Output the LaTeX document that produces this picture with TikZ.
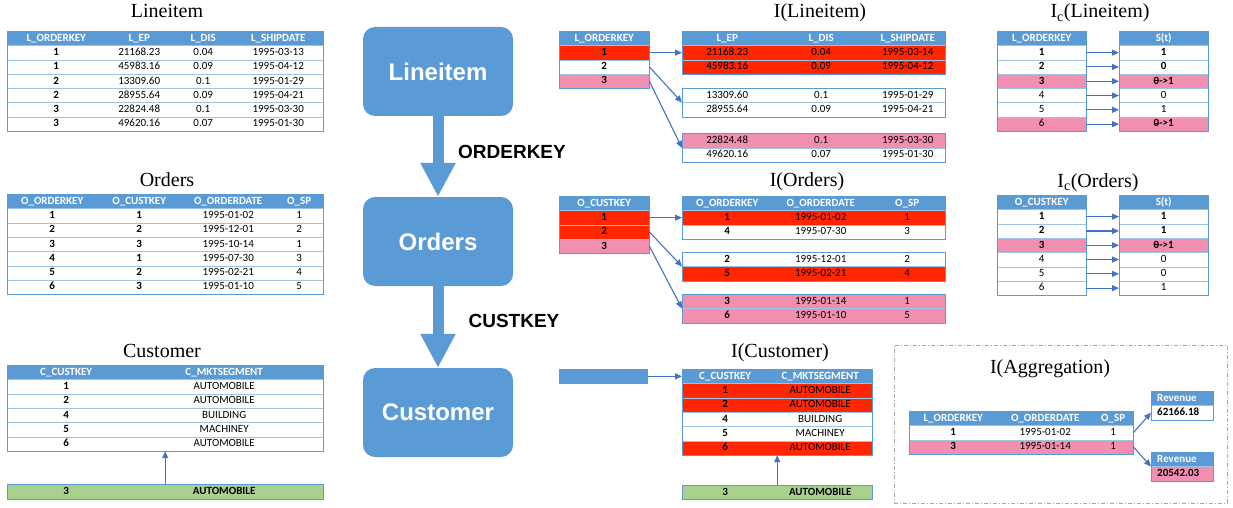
\documentclass[tikz,border=0pt]{standalone}
\usepackage{fontspec}
\usetikzlibrary{arrows.meta,matrix,positioning}
\newfontfamily\tabfam{Carlito}
\newfontfamily\serfam{Liberation Serif}
\newfontfamily\sanfam{Liberation Sans}
\definecolor{HeadBlue}{HTML}{5B9BD5}
\definecolor{LinkBlue}{HTML}{4472C4}
\definecolor{LineBlue}{HTML}{9DC3E6}
\definecolor{RowRed}{HTML}{FF2600}
\definecolor{RowPink}{HTML}{F28FB0}
\definecolor{RowGreen}{HTML}{A9D18E}
\definecolor{FrameGray}{HTML}{A6A6A6}
\newcommand{\tabfont}{\tabfam\fontsize{11}{13}\selectfont}
\newcommand{\ttlfont}{\serfam\fontsize{20}{22}\selectfont}
\newcommand{\boxfont}{\sanfam\bfseries\fontsize{24}{26}\selectfont}
\newcommand{\keyfont}{\sanfam\bfseries\fontsize{19}{21}\selectfont}
\newcommand{\zo}{\rlap{\rule[3.3pt]{5.6pt}{.7pt}}0->1}
% row lines and frame of a table matrix: name, rows, columns
\newcommand{\tlines}[3]{%
  \foreach \n in {1,...,#2}{\draw[rowline] (#1-\n-1.south west) -- (#1-\n-#3.south east);}
  \draw[tframe] (#1.north west) rectangle (#1.south east);}
\tikzset{
  cell/.style={anchor=center, inner sep=0pt, minimum height=14.3pt,
               text height=7pt, text depth=1.5pt, font=\tabfont},
  hdr/.style={fill=HeadBlue, text=white, font=\tabfont\bfseries},
  body/.style={matrix of nodes, inner sep=0pt, column sep=0pt, row sep=0pt,
               anchor=north west, nodes={cell}},
  tbl/.style={body, row 1/.style={nodes={hdr}}},
  colw/.style 2 args={column #1/.style={nodes={minimum width=#2}}},
  redrow/.style={row #1/.style={nodes={fill=RowRed}}},
  pinkrow/.style={row #1/.style={nodes={fill=RowPink}}},
  greenrow/.style={row #1/.style={nodes={fill=RowGreen}}},
  rev/.style={nodes={text width=50pt, align=left, inner xsep=6pt}},
  rowline/.style={draw=LineBlue, line width=.8pt},
  tframe/.style={draw=HeadBlue, line width=.8pt},
  ttl/.style={font=\ttlfont, anchor=base, inner sep=0pt},
  bigbox/.style={fill=HeadBlue, rounded corners=12pt, minimum width=150pt,
                 minimum height=89pt, text=white, font=\boxfont},
  bigarrow/.style={draw=HeadBlue, line width=11pt,
                   -{Triangle[width=33pt,length=34pt]}},
  keylbl/.style={font=\keyfont},
  link/.style={draw=LinkBlue, line width=1.1pt,
               -{Triangle[width=6pt,length=7pt]}},
  aggframe/.style={draw=FrameGray, line width=.8pt,
                   dash pattern=on 4pt off 2pt on 1pt off 2pt}
}

\begin{document}
\begin{tikzpicture}[x=1pt,y=-1pt]
\fill[white] (0,0) rectangle (1233,508);
\useasboundingbox (0,0) rectangle (1233,508);

% base tables
\node[ttl] (t-li) at (167,18) {Lineitem};
\matrix (li) [tbl, at={(7,31)}, colw={1}{98pt}, colw={2}{68pt}, colw={3}{60pt}, colw={4}{90pt}] {
L\_ORDERKEY & L\_EP & L\_DIS & L\_SHIPDATE \\
\textbf{1} & 21168.23 & 0.04 & 1995-03-13 \\
\textbf{1} & 45983.16 & 0.09 & 1995-04-12 \\
\textbf{2} & 13309.60 & 0.1 & 1995-01-29 \\
\textbf{2} & 28955.64 & 0.09 & 1995-04-21 \\
\textbf{3} & 22824.48 & 0.1 & 1995-03-30 \\
\textbf{3} & 49620.16 & 0.07 & 1995-01-30 \\
};
\tlines{li}{7}{4}

\node[ttl] (t-od) at (167,186) {Orders};
\matrix (od) [tbl, at={(7,194)}, colw={1}{90pt}, colw={2}{84pt}, colw={3}{94pt}, colw={4}{48pt}] {
O\_ORDERKEY & O\_CUSTKEY & O\_ORDERDATE & O\_SP \\
\textbf{1} & \textbf{1} & 1995-01-02 & 1 \\
\textbf{2} & \textbf{2} & 1995-12-01 & 2 \\
\textbf{3} & \textbf{3} & 1995-10-14 & 1 \\
\textbf{4} & \textbf{1} & 1995-07-30 & 3 \\
\textbf{5} & \textbf{2} & 1995-02-21 & 4 \\
\textbf{6} & \textbf{3} & 1995-01-10 & 5 \\
};
\tlines{od}{7}{4}

\node[ttl] (t-cu) at (162,357) {Customer};
\matrix (cu) [tbl, at={(7,365)}, colw={1}{118pt}, colw={2}{198pt}] {
C\_CUSTKEY & C\_MKTSEGMENT \\
\textbf{1} & AUTOMOBILE \\
\textbf{2} & AUTOMOBILE \\
\textbf{4} & BUILDING \\
\textbf{5} & MACHINEY \\
\textbf{6} & AUTOMOBILE \\
};
\tlines{cu}{6}{2}
\matrix (cug) [body, at={(7,484.5)}, colw={1}{118pt}, colw={2}{198pt}, greenrow=1] {
\textbf{3} & \textbf{AUTOMOBILE} \\
};
\tlines{cug}{1}{2}
\draw[link] (cug) -- (cu);

% join path
\node[bigbox] (lb) at (438,71.5) {Lineitem};
\node[bigbox] (ob) at (438,241.5) {Orders};
\node[bigbox] (cb) at (438,412.5) {Customer};
\draw[bigarrow] (lb) -- (ob);
\draw[bigarrow] (ob) -- (cb);
\node[keylbl] (okey) at (512,152) {ORDERKEY};
\node[keylbl] (ckey) at (514,321) {CUSTKEY};

% I(Lineitem)
\node[ttl] (t-il) at (820,18) {I(Lineitem)};
\matrix (ilk) [tbl, at={(559,31)}, colw={1}{90pt}, redrow=2, pinkrow=4] {
L\_ORDERKEY \\ \textbf{1} \\ \textbf{2} \\ \textbf{3} \\
};
\tlines{ilk}{4}{1}
\matrix (ila) [tbl, at={(682,31)}, colw={1}{90pt}, colw={2}{98pt}, colw={3}{75pt}, redrow=2, redrow=3] {
L\_EP & L\_DIS & L\_SHIPDATE \\
21168.23 & 0.04 & 1995-03-14 \\
45983.16 & 0.09 & 1995-04-12 \\
};
\tlines{ila}{3}{3}
\matrix (ilb) [body, at={(682,88)}, colw={1}{90pt}, colw={2}{98pt}, colw={3}{75pt}] {
13309.60 & 0.1 & 1995-01-29 \\
28955.64 & 0.09 & 1995-04-21 \\
};
\tlines{ilb}{2}{3}
\matrix (ilc) [body, at={(682,133.5)}, colw={1}{90pt}, colw={2}{98pt}, colw={3}{75pt}, pinkrow=1] {
22824.48 & 0.1 & 1995-03-30 \\
49620.16 & 0.07 & 1995-01-30 \\
};
\tlines{ilc}{2}{3}
\draw[link] (ilk-2-1.east) -- (ila-2-1.west);
\draw[link] (ilk-3-1.east) -- (ilb.west);
\draw[link] (ilk-4-1.east) -- (ilc.west);

% I(Orders)
\node[ttl] (t-io) at (807,186) {I(Orders)};
\matrix (iok) [tbl, at={(559,196)}, colw={1}{90pt}, redrow=2, redrow=3, pinkrow=4] {
O\_CUSTKEY \\ \textbf{1} \\ \textbf{2} \\ \textbf{3} \\
};
\tlines{iok}{4}{1}
\matrix (ioa) [tbl, at={(682,196)}, colw={1}{90pt}, colw={2}{97pt}, colw={3}{76pt}, redrow=2] {
O\_ORDERKEY & O\_ORDERDATE & O\_SP \\
\textbf{1} & 1995-01-02 & 1 \\
\textbf{4} & 1995-07-30 & 3 \\
};
\tlines{ioa}{3}{3}
\matrix (iob) [body, at={(682,252)}, colw={1}{90pt}, colw={2}{97pt}, colw={3}{76pt}, redrow=2] {
\textbf{2} & 1995-12-01 & 2 \\
\textbf{5} & 1995-02-21 & 4 \\
};
\tlines{iob}{2}{3}
\matrix (ioc) [body, at={(682,294)}, colw={1}{90pt}, colw={2}{97pt}, colw={3}{76pt}, pinkrow=1, pinkrow=2] {
\textbf{3} & 1995-01-14 & 1 \\
\textbf{6} & 1995-01-10 & 5 \\
};
\tlines{ioc}{2}{3}
\draw[link] (iok-2-1.east) -- (ioa-2-1.west);
\draw[link] (iok-3-1.east) -- (iob.west);
\draw[link] (iok-4-1.east) -- (ioc.west);

% I(Customer)
\node[ttl] (t-ic) at (780,357) {I(Customer)};
\node[fill=HeadBlue, minimum width=89pt, minimum height=14.3pt, inner sep=0pt, anchor=north west] (cbar) at (559,369) {};
\matrix (ic) [tbl, at={(682,369)}, colw={1}{86pt}, colw={2}{104pt}, redrow=2, redrow=3, redrow=6] {
C\_CUSTKEY & C\_MKTSEGMENT \\
\textbf{1} & AUTOMOBILE \\
\textbf{2} & AUTOMOBILE \\
\textbf{4} & BUILDING \\
\textbf{5} & MACHINEY \\
\textbf{6} & AUTOMOBILE \\
};
\tlines{ic}{6}{2}
\matrix (icg) [body, at={(682,485)}, colw={1}{86pt}, colw={2}{104pt}, greenrow=1] {
\textbf{3} & \textbf{AUTOMOBILE} \\
};
\tlines{icg}{1}{2}
\draw[link] (cbar.east) -- (ic-1-1.west);
\draw[link] (icg) -- (ic);

% Ic(Lineitem)
\node[ttl] (t-cl) at (1100,18) {I\textsubscript{c}(Lineitem)};
\matrix (cll) [tbl, at={(997,31)}, colw={1}{89pt}, pinkrow=4, pinkrow=7] {
L\_ORDERKEY \\ \textbf{1} \\ \textbf{2} \\ \textbf{3} \\ 4 \\ 5 \\ 6 \\
};
\tlines{cll}{7}{1}
\matrix (clr) [tbl, at={(1119,31)}, colw={1}{89pt}, pinkrow=4, pinkrow=7] {
S(t) \\ \textbf{1} \\ \textbf{0} \\ \textbf{\zo} \\ 0 \\ 1 \\ \textbf{\zo} \\
};
\tlines{clr}{7}{1}
\foreach \n in {2,...,7}
  \draw[link] (cll-\n-1.east) -- (clr-\n-1.west);

% Ic(Orders)
\node[ttl] (t-co) at (1098,187) {I\textsubscript{c}(Orders)};
\matrix (col) [tbl, at={(997,195)}, colw={1}{89pt}, pinkrow=4] {
O\_CUSTKEY \\ \textbf{1} \\ \textbf{2} \\ \textbf{3} \\ 4 \\ 5 \\ 6 \\
};
\tlines{col}{7}{1}
\matrix (cor) [tbl, at={(1119,195)}, colw={1}{89pt}, pinkrow=4] {
S(t) \\ \textbf{1} \\ \textbf{1} \\ \textbf{\zo} \\ 0 \\ 0 \\ 1 \\
};
\tlines{cor}{7}{1}
\foreach \n in {2,...,7}
  \draw[link] (col-\n-1.east) -- (cor-\n-1.west);

% I(Aggregation)
\node[aggframe, minimum width=333pt, minimum height=158pt, inner sep=0pt, anchor=north west] (agbox) at (894,345) {};
\node[ttl] (t-ag) at (1050,373) {I(Aggregation)};
\matrix (ag) [tbl, at={(909,411)}, colw={1}{88pt}, colw={2}{96pt}, colw={3}{40pt}, pinkrow=3] {
L\_ORDERKEY & O\_ORDERDATE & O\_SP \\
\textbf{1} & 1995-01-02 & 1 \\
\textbf{3} & 1995-01-14 & 1 \\
};
\tlines{ag}{3}{3}
\matrix (rv1) [tbl, rev, at={(1151,391)}] {
Revenue \\ \textbf{62166.18} \\
};
\tlines{rv1}{2}{1}
\matrix (rv2) [tbl, rev, at={(1151,452)}, pinkrow=2] {
Revenue \\ \textbf{20542.03} \\
};
\tlines{rv2}{2}{1}
\draw[link] (ag-2-3.east) -- (rv1-2-1.west);
\draw[link] (ag-3-3.east) -- (rv2.west);
\end{tikzpicture}
\end{document}
